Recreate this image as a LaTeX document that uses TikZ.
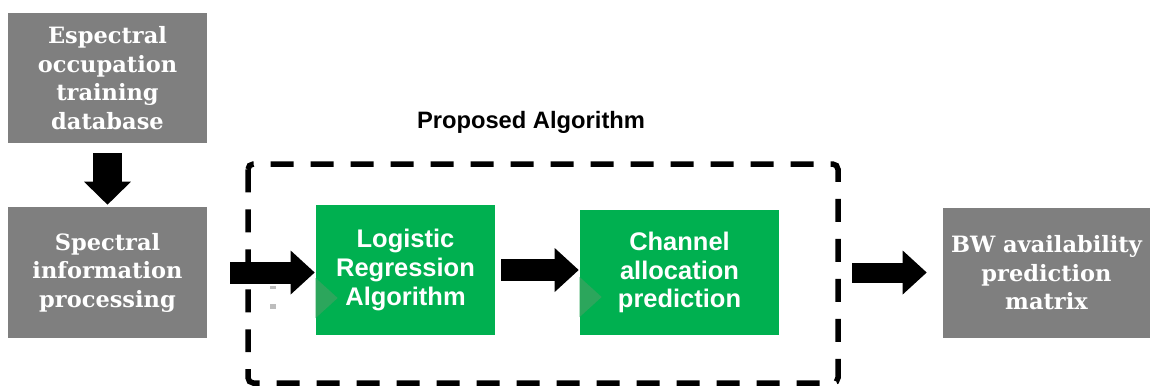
\documentclass[tikz,border=0pt]{standalone}
\usepackage{fontspec}
\setmainfont{DejaVu Serif}
\newfontfamily\sansfont{Liberation Sans}
\usetikzlibrary{arrows.meta,calc}

\begin{document}
\begin{tikzpicture}[x=0.02cm, y=-0.02cm]
    \definecolor{greyBox}{HTML}{7F7F7F}
    \definecolor{greenBox}{HTML}{00B050}
    \definecolor{chevronColour}{HTML}{2CA65C}
    \definecolor{markColour}{HTML}{BDBDBD}

    \tikzset{
        greybox/.style={fill=greyBox, text=white, inner sep=0pt, align=center,
            font=\bfseries\fontsize{12.8}{16.2}\selectfont},
        greenbox/.style={fill=greenBox, text=white, inner sep=0pt, align=center,
            font=\sansfont\bfseries\fontsize{14.5}{16.4}\selectfont},
        blockarrow/.style={line width=0.44cm,
            -{Triangle[length=0.48cm, width=0.88cm, line width=0pt]}},
        chevron/.style={fill=chevronColour}
    }

    \useasboundingbox (0,0) rectangle (1154,387);

    % Draw the proposed algorithm frame
    \draw[line width=0.11cm, dash pattern=on 0.46cm off 0.34cm, rounded corners=3pt]
        (248,164) rectangle (838,383);
    \node[font=\sansfont\bfseries\fontsize{13.5}{16}\selectfont] (title) at (531,122) {Proposed Algorithm};

    % Grey boxes
    \node[greybox, minimum width=3.98cm, minimum height=2.6cm] (train) at (107.5,78)
        {Espectral\\occupation\\training\\database};
    \node[greybox, minimum width=3.98cm, minimum height=2.62cm] (proc) at (107.5,272.5)
        {Spectral\\information\\processing};
    \node[greybox, minimum width=4.14cm, minimum height=2.6cm] (matrix) at (1046.5,273)
        {BW availability\\prediction\\matrix};

    % Green boxes
    \node[greenbox, minimum width=3.58cm, minimum height=2.62cm] (logreg) at (405.5,270)
        {Logistic\\Regression\\Algorithm};
    \node[greenbox, minimum width=3.98cm, minimum height=2.52cm] (chan) at (679.5,272.5)
        {Channel\\allocation\\prediction};

    % Chevrons inside the green boxes
    \fill[chevron] ($(logreg.west)+(0,8)$) -- ++(22,20) -- ++(-22,20) -- cycle;
    \fill[chevron] ($(chan.west)+(0,4.5)$) -- ++(22,20) -- ++(-22,20) -- cycle;

    % Small marks
    \fill[markColour] (270,286) rectangle (276,289);
    \fill[markColour] (270,304) rectangle (276,309);

    % Arrows
    \draw[line width=0.6cm, -{Triangle[length=0.46cm, width=0.94cm, line width=0pt]},
        shorten <=0.2cm, shorten >=0.04cm] (train.south) -- (proc.north);
    \draw[blockarrow, shorten <=0.46cm, shorten >=0.02cm] (proc.east) -- (proc.east -| logreg.west);
    \draw[blockarrow, shorten <=0.12cm, shorten >=0.02cm] (logreg.east) -- (logreg.east -| chan.west);
    \draw[blockarrow, line width=0.4cm, shorten <=1.46cm, shorten >=0.32cm] (chan.east) -- (chan.east -| matrix.west);

\end{tikzpicture}
\end{document}
